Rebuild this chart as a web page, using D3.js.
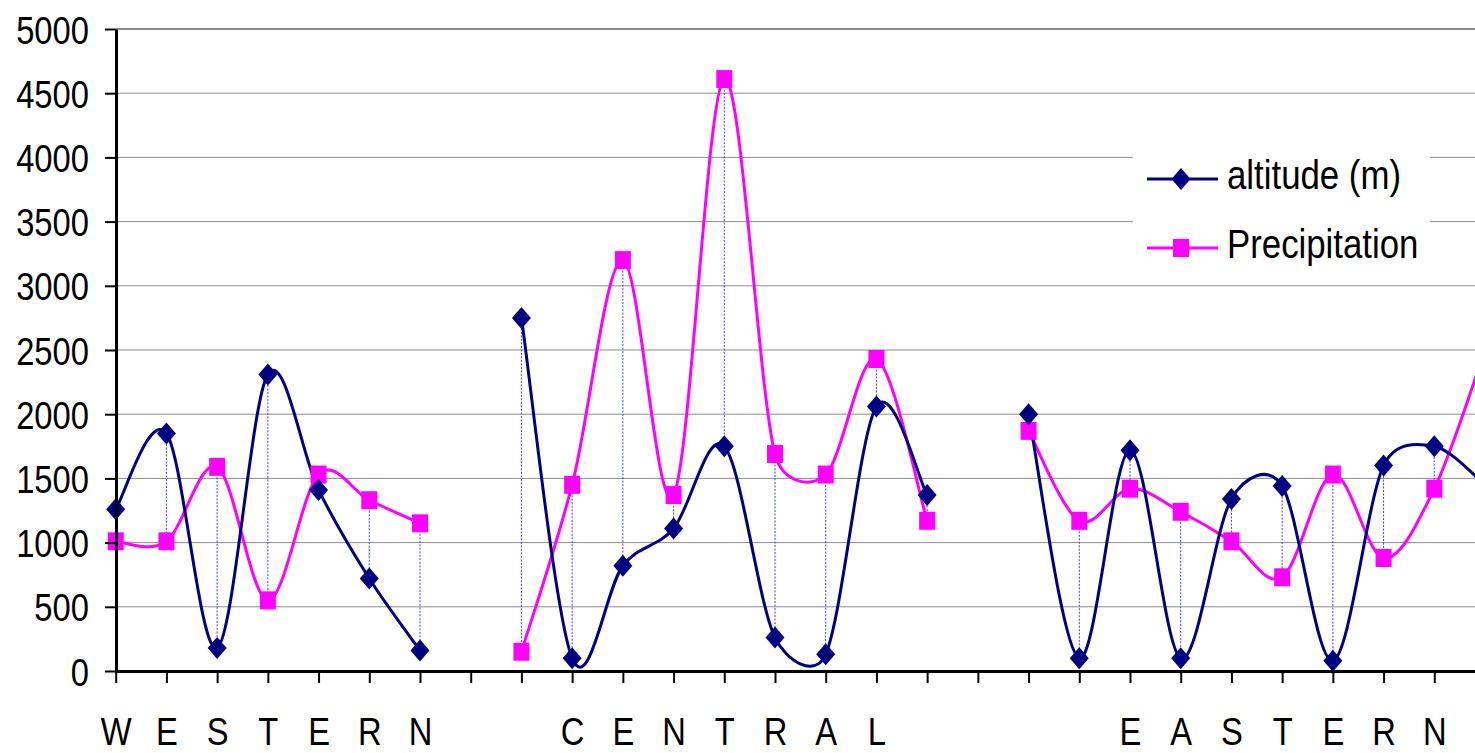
<!DOCTYPE html>
<html>
<head>
<meta charset="utf-8">
<script src="https://cdn.jsdelivr.net/npm/d3@7"></script>
<style>
  body { margin: 0; background: #fff; }
  text { font-family: "Liberation Sans", Arial, sans-serif; fill: #000; }
</style>
</head>
<body>
<svg id="chart" width="1475" height="753"></svg>
<script>
// category letters, blanks are the gaps between the regions
var categories = ["W", "E", "S", "T", "E", "R", "N", "", "",
  "C", "E", "N", "T", "R", "A", "L", "", "", "", "",
  "E", "A", "S", "T", "E", "R", "N", ""];
var altitude = [1260, 1850, 180, 2310, 1410, 720, 160, null,
  2750, 100, 820, 1110, 1750, 260, 130, 2060, 1370, null,
  2000, 100, 1720, 100, 1340, 1440, 80, 1600, 1750, 1450];
var precipitation = [1010, 1010, 1590, 550, 1530, 1330, 1150, null,
  150, 1450, 3200, 1370, 4610, 1690, 1530, 2430, 1170, null,
  1870, 1170, 1420, 1240, 1010, 730, 1530, 880, 1420, 2500];
var yTicks = [0, 500, 1000, 1500, 2000, 2500, 3000, 3500, 4000, 4500, 5000];
var seriesNames = ["altitude (m)", "Precipitation"];

var svg = d3.select("#chart"),
  width = +svg.attr("width"),
  plotTop = 29, plotBottom = 671, plotLeft = 116,
  step = 50.715,
  squeeze = 0.84; // text in the original is narrowed horizontally

var x = d3.scaleLinear()
  .domain([0, categories.length - 1])
  .range([115.7, 115.7 + step * (categories.length - 1)]);
var y = d3.scaleLinear().domain([0, 5000]).range([plotBottom, plotTop]);

// Excel-like smoothing: catmull-rom tangents, arm capped at half the chord
function arm(a, p, b) {
  var dx = b[0] - a[0], dy = b[1] - a[1], len = Math.hypot(dx, dy);
  var chord = Math.hypot(b[0] - p[0], b[1] - p[1]);
  if (len === 0) return [0, 0];
  var f = Math.min(1 / 6, chord / (2 * len));
  return [dx * f, dy * f];
}
function smoothPath(values) {
  var path = d3.path(), runs = [], cur = [];
  values.forEach(function(v, i) {
    if (v == null) { if (cur.length) runs.push(cur); cur = []; }
    else cur.push([x(i), y(v)]);
  });
  if (cur.length) runs.push(cur);
  runs.forEach(function(pts) {
    path.moveTo(pts[0][0], pts[0][1]);
    for (var i = 0; i < pts.length - 1; i++) {
      var p0 = pts[Math.max(i - 1, 0)], p1 = pts[i], p2 = pts[i + 1],
        p3 = pts[Math.min(i + 2, pts.length - 1)];
      var c1 = arm(p0, p1, p2), c2 = arm(p3, p2, p1);
      path.bezierCurveTo(p1[0] + c1[0], p1[1] + c1[1],
        p2[0] + c2[0], p2[1] + c2[1], p2[0], p2[1]);
    }
  });
  return path.toString();
}

// gridlines
svg.append("g").selectAll("line")
  .data(yTicks.filter(function(d) { return d > 0; }))
  .enter().append("line")
  .attr("x1", plotLeft).attr("x2", width)
  .attr("y1", function(d) { return y(d); })
  .attr("y2", function(d) { return y(d); })
  .attr("stroke", "#8c8c8c")
  .attr("stroke-width", function(d) { return d === 5000 ? 2 : 1; });

// legend background hides the gridlines behind it
svg.append("rect")
  .attr("x", 1133).attr("y", 140).attr("width", 297).attr("height", 135)
  .attr("fill", "#fff");

svg.append("clipPath").attr("id", "plotClip")
  .append("rect")
  .attr("x", plotLeft).attr("y", plotTop)
  .attr("width", width - plotLeft).attr("height", plotBottom - plotTop - 2);

// high-low lines between the two series
var both = d3.range(categories.length).filter(function(i) {
  return altitude[i] != null && precipitation[i] != null;
});
svg.append("g").selectAll("line")
  .data(both)
  .enter().append("line")
  .attr("x1", function(i) { return x(i); })
  .attr("x2", function(i) { return x(i); })
  .attr("y1", function(i) { return y(Math.max(altitude[i], precipitation[i])); })
  .attr("y2", function(i) { return y(Math.min(altitude[i], precipitation[i])); })
  .attr("stroke", "#3a3aff")
  .attr("stroke-width", 1)
  .attr("stroke-dasharray", "2,1.5");

var lines = svg.append("g").attr("clip-path", "url(#plotClip)");
lines.append("path")
  .attr("d", smoothPath(precipitation)).attr("fill", "none")
  .attr("stroke", "#ff00ff").attr("stroke-width", 3);
lines.append("path")
  .attr("d", smoothPath(altitude)).attr("fill", "none")
  .attr("stroke", "#000080").attr("stroke-width", 3);

var diamond = "M0,-11L9.5,0L0,11L-9.5,0Z";

svg.append("g").selectAll("rect")
  .data(d3.range(categories.length).filter(function(i) { return precipitation[i] != null; }))
  .enter().append("rect")
  .attr("x", function(i) { return x(i) - 8; })
  .attr("y", function(i) { return y(precipitation[i]) - 9; })
  .attr("width", 16).attr("height", 18)
  .attr("fill", "#ff00ff");

svg.append("g").selectAll("path")
  .data(d3.range(categories.length).filter(function(i) { return altitude[i] != null; }))
  .enter().append("path")
  .attr("d", diamond)
  .attr("transform", function(i) { return "translate(" + x(i) + "," + y(altitude[i]) + ")"; })
  .attr("fill", "#000080");

// axes
var yAxis = svg.append("g")
  .attr("transform", "translate(" + plotLeft + ",0)")
  .call(d3.axisLeft(y).tickValues(yTicks).tickFormat(d3.format("d"))
    .tickSize(11).tickSizeOuter(0));
yAxis.select(".domain").attr("stroke", "#000").attr("stroke-width", 3);
yAxis.selectAll(".tick line").attr("stroke", "#000").attr("stroke-width", 2);
yAxis.selectAll(".tick text")
  .attr("font-size", 39)
  .attr("x", -27 / squeeze)
  .attr("dy", "0.36em")
  .attr("transform", "scale(" + squeeze + ",1)");

var xAxis = svg.append("g")
  .attr("transform", "translate(0," + plotBottom + ")")
  .call(d3.axisBottom(x)
    .tickValues(d3.range(categories.length))
    .tickFormat(function(i) { return categories[i]; })
    .tickSize(12).tickSizeOuter(0));
xAxis.select(".domain").attr("stroke", "#000").attr("stroke-width", 3);
xAxis.selectAll(".tick line").attr("stroke", "#000").attr("stroke-width", 2);
xAxis.selectAll(".tick text")
  .attr("font-size", 39)
  .attr("y", 74)
  .attr("dy", 0)
  .attr("transform", "scale(" + squeeze + ",1)");
svg.selectAll("g").attr("font-family", null);

// legend
var legend = svg.append("g");
var legendRows = [
  { name: seriesNames[0], color: "#000080", marker: "diamond", y: 179 },
  { name: seriesNames[1], color: "#ff00ff", marker: "square", y: 248 }
];
legendRows.forEach(function(r) {
  legend.append("line")
    .attr("x1", 1147).attr("x2", 1218)
    .attr("y1", r.y).attr("y2", r.y)
    .attr("stroke", r.color).attr("stroke-width", 3);
  if (r.marker === "diamond") {
    legend.append("path").attr("d", diamond)
      .attr("transform", "translate(1181," + r.y + ")")
      .attr("fill", r.color);
  } else {
    legend.append("rect")
      .attr("x", 1173).attr("y", r.y - 9)
      .attr("width", 16).attr("height", 18)
      .attr("fill", r.color);
  }
  legend.append("text")
    .attr("transform", "translate(1227," + (r.y + 10) + ") scale(0.87,1)")
    .attr("font-size", 40)
    .text(r.name);
});
</script>
</body>
</html>
